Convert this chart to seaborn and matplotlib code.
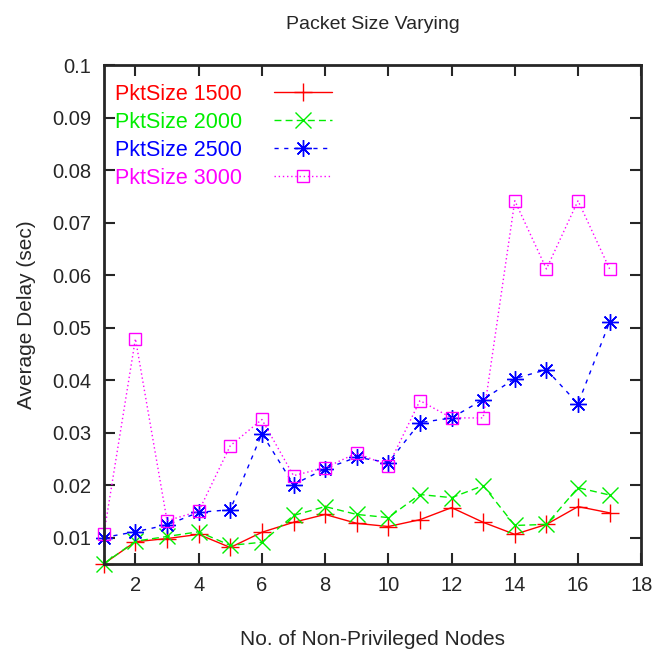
import matplotlib
matplotlib.use("Agg")
import matplotlib.pyplot as plt
import seaborn as sns
import pandas as pd

nodes = list(range(1, 18))
pkt1500 = [0.0050, 0.0092, 0.0098, 0.0106, 0.0081, 0.0110, 0.0129, 0.0144, 0.0127,
           0.0121, 0.0134, 0.0157, 0.0129, 0.0106, 0.0125, 0.0159, 0.0147]
pkt2000 = [0.0050, 0.0093, 0.0102, 0.0111, 0.0085, 0.0091, 0.0142, 0.0159, 0.0144,
           0.0138, 0.0182, 0.0176, 0.0199, 0.0123, 0.0125, 0.0195, 0.0181]
pkt2500 = [0.0100, 0.0111, 0.0124, 0.0148, 0.0153, 0.0298, 0.0201, 0.0231, 0.0253,
           0.0243, 0.0319, 0.0328, 0.0363, 0.0403, 0.0420, 0.0355, 0.0511]
pkt3000 = [0.0106, 0.0479, 0.0132, 0.0150, 0.0275, 0.0325, 0.0218, 0.0233, 0.0261,
           0.0237, 0.0361, 0.0328, 0.0328, 0.0742, 0.0612, 0.0742, 0.0612]
labels = ["PktSize 1500", "PktSize 2000", "PktSize 2500", "PktSize 3000"]
xticks = [2, 4, 6, 8, 10, 12, 14, 16, 18]
yticks = [0.01, 0.02, 0.03, 0.04, 0.05, 0.06, 0.07, 0.08, 0.09, 0.1]
ytick_labels = ["0.01", "0.02", "0.03", "0.04", "0.05", "0.06", "0.07", "0.08", "0.09", "0.1"]

sns.set_style("ticks")
plt.rcParams['font.family'] = ['Liberation Sans', 'DejaVu Sans']

fig = plt.figure(figsize=(6.53, 6.54), dpi=100)
ax = fig.add_axes([0.159, 0.138, 0.823, 0.762])

colors = ["#ff0000", "#00ee00", "#0000ff", "#ff00ff"]
markers = ["+", "x", (8, 2, 0), "s"]
msizes = [13, 11, 12, 9]
dashes = [None, (5, 3), (3, 4), (1, 2)]
series = [pkt1500, pkt2000, pkt2500, pkt3000]

for vals, lab, c, m, ms, d in zip(series, labels, colors, markers, msizes, dashes):
    df = pd.DataFrame({"x": nodes, "y": vals})
    sns.lineplot(x="x", y="y", data=df, ax=ax, color=c, marker=m, markersize=ms,
                 linewidth=1.0, label=lab, markerfacecolor="none",
                 markeredgecolor=c, markeredgewidth=1.0, clip_on=False)
    l = ax.get_lines()[-1]
    if d is not None:
        l.set_dashes(d)

ax.set_xlim(1, 18)
ax.set_ylim(0.005, 0.1)
ax.set_xticks(xticks)
ax.set_yticks(yticks)
ax.set_yticklabels(ytick_labels)
ax.tick_params(direction="in", top=True, right=True, length=8, width=1.5,
               labelsize=14.5, pad=9)
for s in ax.spines.values():
    s.set_linewidth(2)
    s.set_visible(True)
    s.set_zorder(5)

ax.set_xlabel("No. of Non-Privileged Nodes", fontsize=15, labelpad=25)
ax.set_ylabel("Average Delay (sec)", fontsize=15, labelpad=12)
ax.set_title("Packet Size Varying", fontsize=14, pad=26)

leg = ax.legend(loc="upper left", markerfirst=False, frameon=False, fontsize=15.5,
                handlelength=2.7, handletextpad=1.5, labelspacing=0.32,
                borderaxespad=0.0, borderpad=0.0, bbox_to_anchor=(0.02, 0.963))
for t, c in zip(leg.get_texts(), colors):
    t.set_color(c)

fig.savefig("out.png", dpi=100)
